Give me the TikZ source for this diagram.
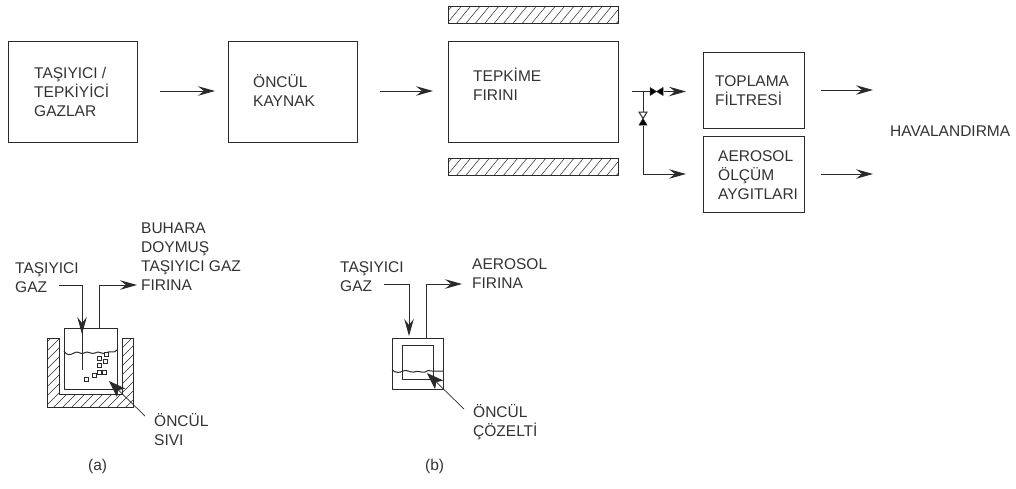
\documentclass[tikz,border=0pt]{standalone}
\usepackage{fontspec}
\setmainfont{Liberation Sans}
\usetikzlibrary{arrows.meta,calc}
\definecolor{ink}{HTML}{2A2A2A}
\definecolor{txt}{HTML}{333333}
\tikzset{
  x=1pt,y=-1pt,
  boxnode/.style={draw=ink,line width=1pt,inner sep=0pt,fill=white},
  label/.style={anchor=west,align=left,inner sep=0pt,text=txt,font=\fontsize{15.5}{19}\selectfont},
  conn/.style={draw=ink,line width=.95pt},
  headed/.style={conn,-{Stealth[length=17pt,width=9.5pt,inset=6pt]}},
  leader/.style={draw=ink,line width=.7pt,-{Stealth[length=17pt,width=12pt,inset=4pt]}},
  hatchline/.style={draw=ink,line width=.5pt},
  outline/.style={draw=ink,line width=1pt},
  valvefill/.style={fill=black,draw=ink,line width=.5pt},
  valveopen/.style={fill=white,draw=ink,line width=1pt},
  bubble/.style={draw=ink,line width=.8pt,fill=white},
  wave/.style={draw=ink,line width=1pt}
}
\begin{document}
\begin{tikzpicture}
\fill[white] (0,0) rectangle (1016,488);
\useasboundingbox (0,0) rectangle (1016,488);

% main boxes
\node[boxnode,minimum width=129pt,minimum height=101pt] (gas) at (72.5,91.5) {};
\node[boxnode,minimum width=129pt,minimum height=101pt] (prec) at (292.5,91.5) {};
\node[boxnode,minimum width=170pt,minimum height=101pt] (furn) at (533,91.5) {};
\node[boxnode,minimum width=101pt,minimum height=76pt] (filt) at (753.5,90) {};
\node[boxnode,minimum width=101pt,minimum height=76pt] (aero) at (753.5,174) {};

% heater bars
\begin{scope}
\clip (448,6) rectangle (618,23);
\foreach \i in {0,...,20} \draw[hatchline] (438+9.4*\i,23) -- (452+9.4*\i,6);
\end{scope}
\node[draw=ink,line width=1pt,inner sep=0pt,minimum width=170pt,minimum height=17pt] (heattop) at (533,14.5) {};
\begin{scope}
\clip (448,158) rectangle (618,175);
\foreach \i in {0,...,20} \draw[hatchline] (438+9.4*\i,175) -- (452+9.4*\i,158);
\end{scope}
\node[draw=ink,line width=1pt,inner sep=0pt,minimum width=170pt,minimum height=17pt] (heatbot) at (533,166.5) {};

% main labels
\node[label] (tgas) at (34,91.5) {TAŞIYICI /\\TEPKİYİCİ\\GAZLAR};
\node[label] (tprec) at (253,90.5) {ÖNCÜL\\KAYNAK};
\node[label] (tfurn) at (473,84) {TEPKİME\\FIRINI};
\node[label] (tfilt) at (715,91) {TOPLAMA\\FİLTRESİ};
\node[label] (taero) at (718,175.5) {AEROSOL\\ÖLÇÜM\\AYGITLARI};
\node[label] (vent) at (890,131) {HAVALANDIRMA};

% main connectors
\coordinate (a1) at (160,91); \coordinate (a2) at (215,91);
\coordinate (b1) at (380,91); \coordinate (b2) at (433,91);
\coordinate (c1) at (632,91.5); \coordinate (c2) at (686,91.5);
\coordinate (jn) at (643,91.5); \coordinate (d2) at (686,174);
\coordinate (e1) at (821,90); \coordinate (e2) at (873,90);
\coordinate (f1) at (821,174); \coordinate (f2) at (873,174);
\draw[headed] (a1) -- (a2);
\draw[headed] (b1) -- (b2);
\draw[headed] (c1) -- (c2);
\draw[headed] (jn) |- (d2);
\draw[headed] (e1) -- (e2);
\draw[headed] (f1) -- (f2);
% valves
\coordinate (hv) at (656.5,91.5);
\coordinate (vv) at (643,118.5);
\fill[white] ($(hv)+(-7,-5)$) rectangle ($(hv)+(7,5)$);
\fill[white] ($(vv)+(-5,-7)$) rectangle ($(vv)+(5,7)$);
\filldraw[valvefill] ($(hv)+(-6.5,-4)$) -- ($(hv)+(-6.5,4)$) -- (hv) -- cycle;
\filldraw[valvefill] ($(hv)+(6.5,-4)$) -- ($(hv)+(6.5,4)$) -- (hv) -- cycle;
\filldraw[valveopen] ($(vv)+(-4,-6.5)$) -- ($(vv)+(4,-6.5)$) -- (vv) -- cycle;
\filldraw[valvefill] ($(vv)+(-4,6.5)$) -- ($(vv)+(4,6.5)$) -- (vv) -- cycle;

% panel (a)
\begin{scope}
\clip (47,338) -- (59,338) -- (59,394) -- (122,394) -- (122,338) -- (133,338) -- (133,407) -- (47,407) -- cycle;
\foreach \i in {0,...,19} \draw[hatchline] (-30+9*\i,410) -- (45+9*\i,335);
\end{scope}
\draw[outline] (47,338) -- (59,338) -- (59,394) -- (122,394) -- (122,338) -- (133,338) -- (133,407) -- (47,407) -- cycle;
\node[boxnode,fill=none,minimum width=53pt,minimum height=61pt] (vesa) at (90.5,358.5) {};
\draw[wave] (64,351) .. controls (67,356) and (70,355) .. (74,353) .. controls (78,350) and (80,355) .. (84,353) .. controls (88,350) and (91,355) .. (95,353) .. controls (99,350) and (102,355) .. (106,353) .. controls (110,350) and (114,354) .. (117,350);
\foreach \bx/\by in {99.5/358,106/354,99/365,105/361,99/372,94/375,104/372,86/379}
  \draw[bubble] (\bx-2,\by-2) rectangle (\bx+2,\by+2);

\node[label] (ta1) at (15,277.5) {TAŞIYICI\\GAZ};
\node[label] (ta2) at (141,257) {BUHARA\\DOYMUŞ\\TAŞIYICI GAZ\\FIRINA};
\node[label] (ta3) at (154,429.5) {ÖNCÜL\\SIVI};
\node[label] (ta4) at (88,466) {(a)};

\coordinate (ga) at (59,285); \coordinate (gb) at (82,285);
\coordinate (gc) at (82,370); \coordinate (gd) at (82,334);
\coordinate (oa) at (99,328); \coordinate (ob) at (137,285);
\coordinate (la) at (145,416); \coordinate (lb) at (109,381);
\draw[conn] (ga) -- (gb) -- (gc);
\draw[headed] (gb) -- (gd);
\draw[headed] (oa) |- (ob);
\draw[leader] (la) -- (lb);

% panel (b)
\node[boxnode,fill=none,minimum width=51pt,minimum height=51pt] (outb) at (417.5,363.5) {};
\node[boxnode,fill=none,minimum width=31pt,minimum height=34pt] (inb) at (417.5,362) {};
\draw[wave] (392,370) .. controls (396,373) and (399,373) .. (403,371) .. controls (407,369) and (410,373) .. (414,372) .. controls (418,370) and (421,373) .. (425,372) .. controls (429,369) and (432,372) .. (436,371) -- (443,371);

\node[label] (tb1) at (340,277) {TAŞIYICI\\GAZ};
\node[label] (tb2) at (472,274) {AEROSOL\\FIRINA};
\node[label] (tb3) at (473,422.5) {ÖNCÜL\\ÇÖZELTİ};
\node[label] (tb4) at (425,466) {(b)};

\coordinate (ha) at (384,284); \coordinate (hb) at (409,284);
\coordinate (hc) at (409,336); \coordinate (ia) at (426,338);
\coordinate (ib) at (462,284); \coordinate (ma) at (464,409);
\coordinate (mb) at (427,373);
\draw[headed] (ha) -- (hb) -- (hc);
\draw[headed] (ia) |- (ib);
\draw[leader] (ma) -- (mb);
\end{tikzpicture}
\end{document}
